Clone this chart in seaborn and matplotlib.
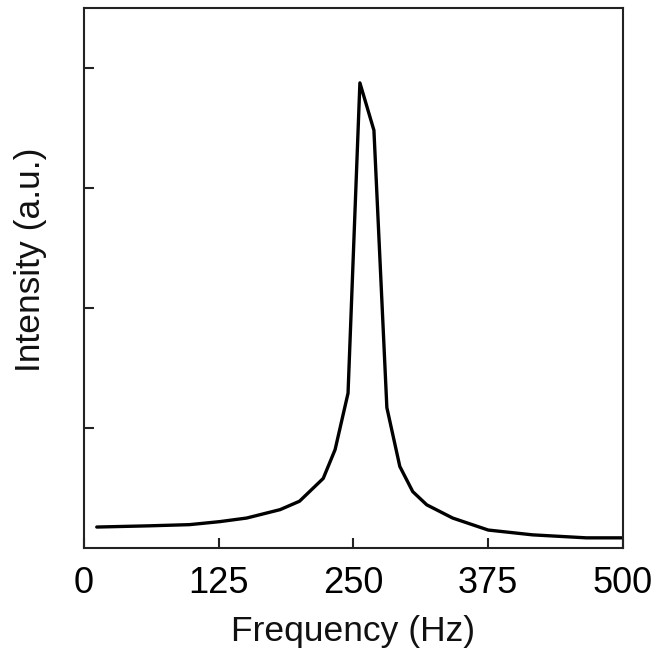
import seaborn as sns
import matplotlib.pyplot as plt
import pandas as pd

# values
freq = [12, 60, 98, 126, 151, 182, 200, 222, 233, 245, 256, 269, 281, 293, 305, 318, 342, 375, 416, 466, 500]
intensity = [0.175, 0.185, 0.195, 0.22, 0.25, 0.32, 0.39, 0.58, 0.82, 1.29, 3.875, 3.48,
             1.17, 0.68, 0.47, 0.36, 0.25, 0.15, 0.11, 0.085, 0.085]
xticks = [0, 125, 250, 375, 500]
yticks = [1, 2, 3, 4]

sns.set_style("white")
plt.rcParams['font.family'] = ['Liberation Sans', 'DejaVu Sans']

df = pd.DataFrame({'Frequency (Hz)': freq, 'Intensity (a.u.)': intensity})

fig = plt.figure(figsize=(6.6, 6.54), dpi=100)
ax = fig.add_axes([0.127, 0.162, 0.817, 0.826])
sns.lineplot(data=df, x='Frequency (Hz)', y='Intensity (a.u.)', sort=False,
             color='black', linewidth=2.4, ax=ax)

ax.set_xlim(0, 500)
ax.set_ylim(0, 4.5)
ax.set_xticks(xticks)
ax.set_xticklabels([str(t) for t in xticks],
                   fontfamily=['Liberation Sans Narrow', 'Liberation Sans'])
ax.set_yticks(yticks)
ax.set_yticklabels([])
ax.tick_params(axis='both', direction='in', length=7, width=1.5, colors='#222222',
               labelsize=26, labelcolor='black', pad=13, bottom=True, left=True)
for s in ax.spines.values():
    s.set_color('#222222')
    s.set_linewidth(1.5)
ax.set_xlabel('Frequency (Hz)', fontsize=25.5, color='#111111')
ax.set_ylabel('Intensity (a.u.)', fontsize=25.5, color='#111111')
ax.xaxis.set_label_coords(0.5, -0.124)
ax.yaxis.set_label_coords(-0.069, 0.533)

fig.savefig('out.png', dpi=100)
